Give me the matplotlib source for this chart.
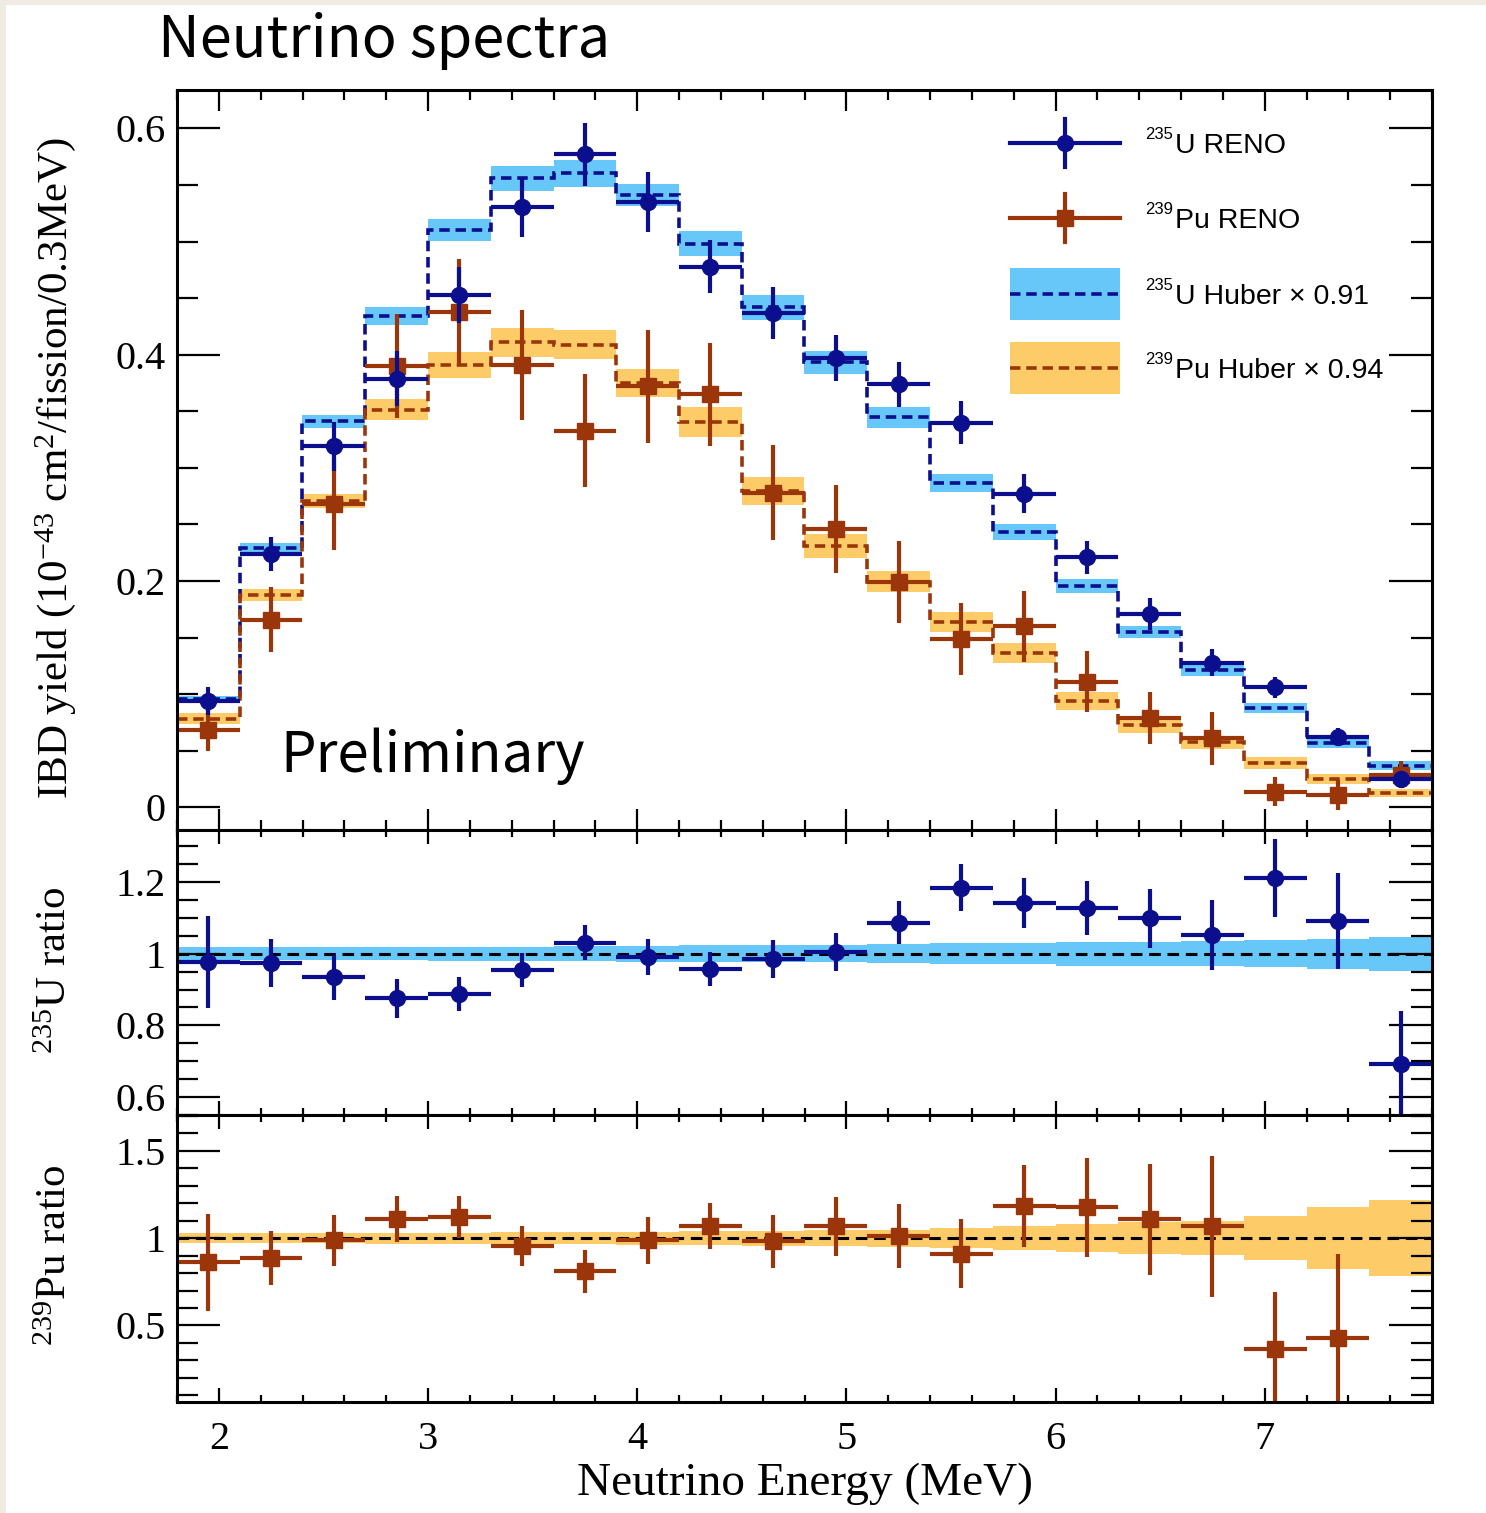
import numpy as np
import matplotlib
matplotlib.use("Agg")
import matplotlib.pyplot as plt
from matplotlib.patches import Rectangle
from matplotlib.lines import Line2D
from matplotlib.ticker import MultipleLocator, FixedLocator, FuncFormatter

plt.rcParams['mathtext.fontset'] = 'custom'
plt.rcParams['mathtext.rm'] = 'Liberation Serif'
plt.rcParams['mathtext.it'] = 'Liberation Serif:italic'
plt.rcParams['mathtext.bf'] = 'Liberation Serif:bold'
plt.rcParams['font.family'] = ['Liberation Serif', 'DejaVu Serif']

# ---------------- data ----------------
bin_edges = [1.8, 2.1, 2.4, 2.7, 3.0, 3.3, 3.6, 3.9, 4.2, 4.5, 4.8,
             5.1, 5.4, 5.7, 6.0, 6.3, 6.6, 6.9, 7.2, 7.5, 7.8]

u235_reno = [0.094, 0.224, 0.319, 0.379, 0.453, 0.531, 0.577, 0.535, 0.478, 0.437,
             0.397, 0.374, 0.340, 0.277, 0.221, 0.171, 0.128, 0.106, 0.062, 0.025]
u235_reno_err = [0.0125, 0.0153, 0.0213, 0.0245, 0.025, 0.0265, 0.028, 0.0265, 0.0235, 0.0228,
                 0.0206, 0.020, 0.019, 0.0172, 0.0147, 0.014, 0.0118, 0.009, 0.0078, 0.006]
u235_huber = [0.0956, 0.2294, 0.3412, 0.4339, 0.5103, 0.5559, 0.5603, 0.5412, 0.498, 0.4418,
              0.3933, 0.3447, 0.2863, 0.2433, 0.1956, 0.155, 0.1212, 0.0877, 0.0565, 0.0368]
u235_huber_err = [0.003, 0.0044, 0.006, 0.008, 0.0097, 0.011, 0.012, 0.010, 0.011, 0.011,
                  0.0103, 0.009, 0.008, 0.0068, 0.0059, 0.0053, 0.005, 0.0044, 0.004, 0.004]

pu239_reno = [0.068, 0.166, 0.268, 0.390, 0.438, 0.391, 0.333, 0.372, 0.365, 0.278,
              0.246, 0.199, 0.149, 0.160, 0.111, 0.079, 0.061, 0.014, 0.011, 0.029]
pu239_reno_err = [0.018, 0.0285, 0.0406, 0.0456, 0.047, 0.0485, 0.050, 0.050, 0.0455, 0.042,
                  0.039, 0.036, 0.032, 0.0315, 0.027, 0.023, 0.0235, 0.0125, 0.0135, 0.012]
pu239_huber = [0.0785, 0.1877, 0.2706, 0.3515, 0.3912, 0.4109, 0.4089, 0.375, 0.3406, 0.2797,
               0.2309, 0.1994, 0.1641, 0.1362, 0.0941, 0.073, 0.0574, 0.0392, 0.025, 0.0124]
pu239_huber_err = [0.005, 0.005, 0.006, 0.0095, 0.0115, 0.0125, 0.0128, 0.0127, 0.0132, 0.0125,
                   0.0106, 0.0094, 0.0088, 0.009, 0.0082, 0.0074, 0.0055, 0.005, 0.0047, 0.0035]

u235_ratio = [0.977, 0.974, 0.934, 0.875, 0.888, 0.955, 1.030, 0.990, 0.957, 0.985,
              1.005, 1.086, 1.184, 1.142, 1.127, 1.099, 1.052, 1.211, 1.090, 0.693]
u235_ratio_err = [0.128, 0.066, 0.063, 0.054, 0.048, 0.048, 0.049, 0.050, 0.048, 0.053,
                  0.053, 0.060, 0.065, 0.069, 0.075, 0.082, 0.098, 0.110, 0.134, 0.147]
u235_ratio_band = [0.018, 0.018, 0.018, 0.019, 0.020, 0.020, 0.021, 0.022, 0.023, 0.024,
                   0.024, 0.026, 0.030, 0.030, 0.033, 0.033, 0.035, 0.037, 0.042, 0.047]

pu239_ratio = [0.861, 0.886, 0.987, 1.109, 1.120, 0.956, 0.810, 0.987, 1.070, 0.981,
               1.067, 1.010, 0.911, 1.184, 1.176, 1.108, 1.067, 0.367, 0.428, np.nan]
pu239_ratio_err = [0.28, 0.155, 0.145, 0.131, 0.119, 0.116, 0.124, 0.136, 0.133, 0.152,
                   0.17, 0.183, 0.198, 0.235, 0.282, 0.317, 0.402, 0.323, 0.48, np.nan]
pu239_ratio_band = [0.030, 0.030, 0.030, 0.031, 0.032, 0.034, 0.036, 0.038, 0.040, 0.043,
                    0.046, 0.048, 0.057, 0.067, 0.082, 0.090, 0.098, 0.127, 0.176, 0.219]

x_ticks = [2, 3, 4, 5, 6, 7]
main_yticks = [0, 0.2, 0.4, 0.6]
u_ratio_yticks = [0.6, 0.8, 1.0, 1.2]
pu_ratio_yticks = [0.5, 1.0, 1.5]

# ---------------- styles ----------------
U_COL = '#0b0f8e'
PU_COL = '#9a360a'
U_BAND = '#66c7f8'
PU_BAND = '#fecb69'
BEIGE = '#efebe3'

edges = np.array(bin_edges)
centers = 0.5 * (edges[:-1] + edges[1:])
half_w = 0.5 * np.diff(edges)

W, H = 1486, 1513
fig = plt.figure(figsize=(W / 100, H / 100), dpi=100)
fig.patch.set_facecolor('white')
fig.add_artist(Rectangle((0, 1 - 5 / H), 1, 5 / H, transform=fig.transFigure,
                         facecolor=BEIGE, edgecolor='none'))
fig.add_artist(Rectangle((0, 0), 6 / W, 1, transform=fig.transFigure,
                         facecolor=BEIGE, edgecolor='none'))


def frac_box(top_px, bottom_px, left_px=177, right_px=1432):
    return [left_px / W, 1 - bottom_px / H, (right_px - left_px) / W, (bottom_px - top_px) / H]


ax_main = fig.add_axes(frac_box(90, 830))
ax_u = fig.add_axes(frac_box(830, 1115), sharex=ax_main)
ax_pu = fig.add_axes(frac_box(1115, 1402), sharex=ax_main)

TICK_FS = 29
LABEL_FS = 31
dash_model = (0, (2.9, 1.6))
dash_unity = (0, (3.8, 2.2))

for ax in (ax_main, ax_u, ax_pu):
    for sp in ax.spines.values():
        sp.set_linewidth(2.2)
        sp.set_zorder(10)
    ax.set_xlim(1.8, 7.8)
    ax.xaxis.set_major_locator(FixedLocator(x_ticks))
    ax.xaxis.set_minor_locator(MultipleLocator(0.2))
    ax.tick_params(which='both', direction='in', top=True, right=True, width=1.6,
                   labelsize=TICK_FS, pad=8)
    ax.tick_params(axis='y', which='major', length=31)
    ax.tick_params(axis='y', which='minor', length=15)
    ax.yaxis.set_major_formatter(FuncFormatter(lambda v, p: '%g' % v))

ax_main.tick_params(axis='x', which='major', length=15)
ax_main.tick_params(axis='x', which='minor', length=7.5)
for ax in (ax_u, ax_pu):
    ax.tick_params(axis='x', which='major', length=10)
    ax.tick_params(axis='x', which='minor', length=5)
ax_main.tick_params(axis='x', labelbottom=False)
ax_u.tick_params(axis='x', labelbottom=False)
ax_pu.tick_params(axis='x', pad=14)
ax_pu.xaxis.set_major_formatter(FuncFormatter(lambda v, p: '%d' % v))

# ---------------- main spectrum panel ----------------
ax_main.set_ylim(-0.02, 0.634)
ax_main.yaxis.set_major_locator(FixedLocator(main_yticks))
ax_main.yaxis.set_minor_locator(MultipleLocator(0.05))

u_h = np.array(u235_huber)
u_he = np.array(u235_huber_err)
p_h = np.array(pu239_huber)
p_he = np.array(pu239_huber_err)

ax_main.stairs(u_h + u_he, edges, baseline=u_h - u_he, fill=True, color=U_BAND, zorder=1)
ax_main.stairs(p_h + p_he, edges, baseline=p_h - p_he, fill=True, color=PU_BAND, zorder=1)
ax_main.stairs(u_h, edges, baseline=None, color=U_COL, lw=2.6, linestyle=dash_model, zorder=2)
ax_main.stairs(p_h, edges, baseline=None, color=PU_COL, lw=2.6, linestyle=dash_model, zorder=2)

ax_main.errorbar(centers, pu239_reno, xerr=half_w, yerr=pu239_reno_err, fmt='s', ms=12,
                 color=PU_COL, elinewidth=3, capsize=0, zorder=3)
ax_main.errorbar(centers, u235_reno, xerr=half_w, yerr=u235_reno_err, fmt='o', ms=11.5,
                 color=U_COL, elinewidth=3, capsize=0, zorder=4)

# legend block (axes-fraction layout)
def lx(px):
    return (px - 177) / 1255


def ly(py):
    return (830 - py) / 740


tr = ax_main.transAxes
x0, x1 = lx(1010), lx(1120)
xc = 0.5 * (x0 + x1)
leg_font = 'Liberation Sans'
rows = [(143, U_COL, 'o', 11.5), (218, PU_COL, 's', 12)]
for py, col, mk, ms in rows:
    ax_main.add_line(Line2D([x0, x1], [ly(py), ly(py)], color=col, lw=3, transform=tr, zorder=6))
    ax_main.add_line(Line2D([xc, xc], [ly(py + 24), ly(py - 24)], color=col, lw=3,
                            transform=tr, zorder=6))
    ax_main.add_line(Line2D([xc], [ly(py)], color=col, marker=mk, ms=ms, transform=tr, zorder=7))
band_rows = [(294, U_BAND, U_COL), (368, PU_BAND, PU_COL)]
for py, bcol, lcol in band_rows:
    ax_main.add_patch(Rectangle((x0, ly(py + 26)), x1 - x0, 52 / 740, transform=tr,
                                facecolor=bcol, edgecolor='none', zorder=6))
    ax_main.add_line(Line2D([x0, x1], [ly(py), ly(py)], color=lcol, lw=2.6,
                            linestyle=dash_model, transform=tr, zorder=7))
for py, sup, txt in [(143, '235', 'U RENO'), (218, '239', 'Pu RENO'),
                     (294, '235', 'U Huber \u00d7 0.91'), (368, '239', 'Pu Huber \u00d7 0.94')]:
    ax_main.text(lx(1145), ly(py - 4), sup, transform=tr, family=leg_font, fontsize=12,
                 ha='left', va='baseline', zorder=8)
    ax_main.text(lx(1175), ly(py + 10), txt, transform=tr, family=leg_font, fontsize=20.5,
                 ha='left', va='baseline', zorder=8)

# ---------------- 235U ratio panel ----------------
ax_u.set_ylim(0.55, 1.345)
ax_u.yaxis.set_major_locator(FixedLocator(u_ratio_yticks))
ax_u.yaxis.set_minor_locator(MultipleLocator(0.05))
ub = np.array(u235_ratio_band)
ax_u.stairs(1 + ub, edges, baseline=1 - ub, fill=True, color=U_BAND, zorder=1)
ax_u.axhline(1.0, color='black', lw=2.2, linestyle=dash_unity, zorder=2)
ax_u.errorbar(centers, u235_ratio, xerr=half_w, yerr=u235_ratio_err, fmt='o', ms=11.5,
              color=U_COL, elinewidth=3, capsize=0, zorder=3)

# ---------------- 239Pu ratio panel ----------------
ax_pu.set_ylim(0.062, 1.705)
ax_pu.yaxis.set_major_locator(FixedLocator(pu_ratio_yticks))
ax_pu.yaxis.set_minor_locator(MultipleLocator(0.1))
pb = np.array(pu239_ratio_band)
ax_pu.stairs(1 + pb, edges, baseline=1 - pb, fill=True, color=PU_BAND, zorder=1)
ax_pu.axhline(1.0, color='black', lw=2.2, linestyle=dash_unity, zorder=2)
ax_pu.errorbar(centers, pu239_ratio, xerr=half_w, yerr=pu239_ratio_err, fmt='s', ms=12,
               color=PU_COL, elinewidth=3, capsize=0, zorder=3)

# ---------------- labels ----------------
fig.text(56 / W, 1 - 468 / H, r'IBD yield (10$^{-43}$ cm$^{2}$/fission/0.3MeV)',
         rotation=90, ha='center', va='center', fontsize=LABEL_FS)
fig.text(56 / W, 1 - 970 / H, r'$^{235}$U ratio', rotation=90, ha='center', va='center',
         fontsize=LABEL_FS)
fig.text(56 / W, 1 - 1255 / H, r'$^{239}$Pu ratio', rotation=90, ha='center', va='center',
         fontsize=LABEL_FS)
fig.text(805 / W, 1 - 1484 / H, 'Neutrino Energy (MeV)', ha='center', va='center',
         fontsize=34)

fig.text(158 / W, 1 - 57 / H, 'Neutrino spectra', family=['Noto Sans CJK KR', 'DejaVu Sans'],
         fontsize=41.5, ha='left', va='baseline')
fig.text(280 / W, 1 - 772 / H, 'Preliminary', family=['Noto Sans CJK KR', 'DejaVu Sans'],
         fontsize=40.5, ha='left', va='baseline')

fig.savefig('out.png', dpi=100, facecolor=fig.get_facecolor())
